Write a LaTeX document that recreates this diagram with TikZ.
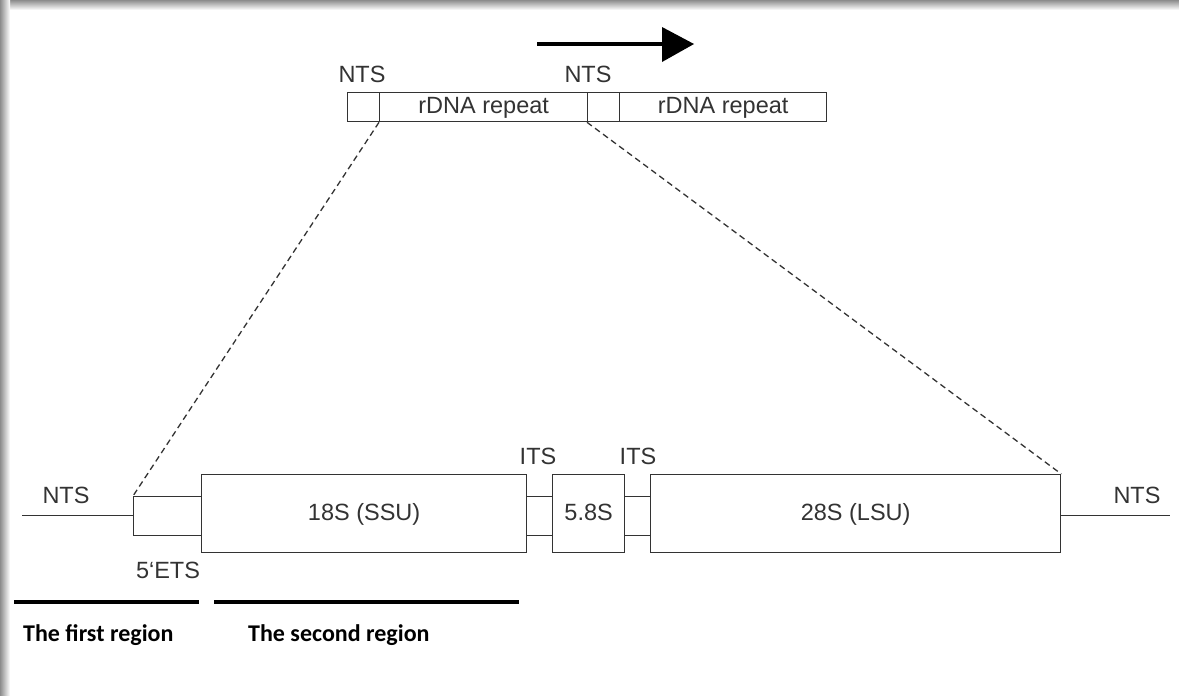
\documentclass[tikz,border=0pt]{standalone}
\usepackage{fontspec}
\setmainfont{Liberation Sans}
\newfontfamily\lblfont{Carlito}
\usetikzlibrary{arrows.meta}
\begin{document}
\begin{tikzpicture}[x=1pt,y=-1pt,
  box/.style={draw=black!80,line width=1.3pt,fill=white},
  lbl/.style={font=\fontsize{23.5}{26}\selectfont,text=black!80,inner sep=0pt,text height=17pt,text depth=4pt},
  reg/.style={font=\lblfont\bfseries\fontsize{24}{28}\selectfont,inner sep=0pt,anchor=west},
  dsh/.style={draw=black!80,line width=1.3pt,dash pattern=on 6pt off 4pt},
  thick line/.style={line width=4pt,black}]
\useasboundingbox (0,0) rectangle (1179,696);
\fill[white] (0,0) rectangle (1179,696);
% frame shadow
\shade[top color=black!45,bottom color=white] (0,0) rectangle (1179,10);
\shade[left color=black!45,right color=white] (0,0) rectangle (10,696);
% top arrow
\coordinate (a1) at (537,44);
\coordinate (a2) at (662,44);
\draw[line width=4pt] (a1) -- (a2);
\fill (662,27) -- (694,44) -- (662,62) -- cycle;
% top strip
\node[box,minimum width=32pt,minimum height=29pt,inner sep=0pt,anchor=north west] (n1) at (347,92) {};
\node[box,minimum width=208pt,minimum height=29pt,inner sep=0pt,anchor=north west,lbl] (r1) at (379,92) {rDNA repeat};
\node[box,minimum width=32pt,minimum height=29pt,inner sep=0pt,anchor=north west] (n2) at (587,92) {};
\node[box,minimum width=207pt,minimum height=29pt,inner sep=0pt,anchor=north west,lbl] (r2) at (619,92) {rDNA repeat};
\node[lbl] (tn1) at (362,76) {NTS};
\node[lbl] (tn2) at (588,76) {NTS};
% bottom elements
\coordinate (lstart) at (22,515.5);
\coordinate (rend) at (1170,515.5);
\node[box,minimum width=68pt,minimum height=39pt,inner sep=0pt,anchor=north west] (ets) at (133,496) {};
\node[box,minimum width=325pt,minimum height=78pt,inner sep=0pt,anchor=north west,lbl] (ssu) at (201,474) {18S (SSU)};
\node[box,minimum width=26pt,minimum height=39pt,inner sep=0pt,anchor=north west] (its1) at (526,496) {};
\node[box,minimum width=72pt,minimum height=78pt,inner sep=0pt,anchor=north west,lbl] (s58) at (552,474) {5.8S};
\node[box,minimum width=26pt,minimum height=39pt,inner sep=0pt,anchor=north west] (its2) at (624,496) {};
\node[box,minimum width=410pt,minimum height=78pt,inner sep=0pt,anchor=north west,lbl] (lsu) at (650,474) {28S (LSU)};
\draw[black!80,line width=1.3pt] (lstart) -- (lstart -| ets.west);
\draw[black!80,line width=1.3pt] (rend -| lsu.east) -- (rend);
\node[lbl] (bn1) at (66,497) {NTS};
\node[lbl] (bn2) at (1137,497) {NTS};
\node[lbl] (etsl) at (168,572) {5‘ETS};
\node[lbl] (itsl1) at (538,458) {ITS};
\node[lbl] (itsl2) at (638,458) {ITS};
% dashed zoom lines
\draw[dsh] (r1.south west) -- (ets.north west);
\draw[dsh] (n2.south west) -- (lsu.north east);
% regions
\coordinate (f1) at (14,602);
\coordinate (f2) at (199,602);
\coordinate (s1) at (214,602);
\coordinate (s2) at (519,602);
\draw[thick line] (f1) -- (f2);
\draw[thick line] (s1) -- (s2);
\node[reg] (t1) at (23,635) {The first region};
\node[reg] (t2) at (248,635) {The second region};
\end{tikzpicture}
\end{document}
